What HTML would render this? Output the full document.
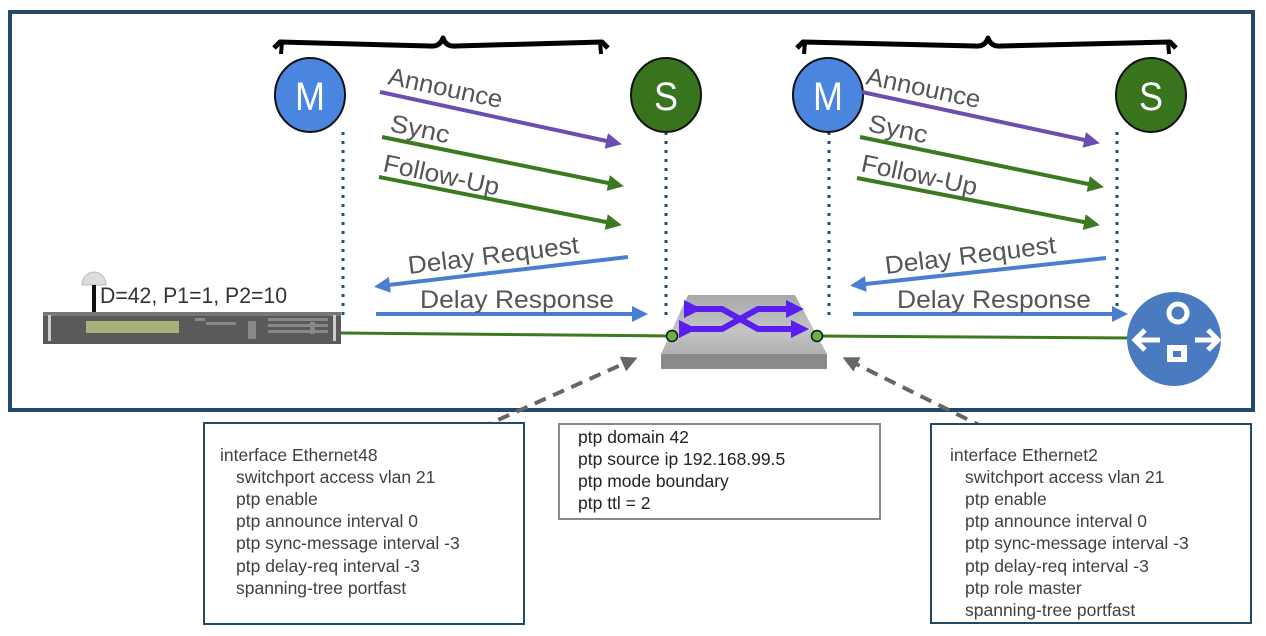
<!DOCTYPE html>
<html><head><meta charset="utf-8"><style>
html,body{margin:0;padding:0;background:#fff;}
svg{display:block;}
text{font-family:"Liberation Sans",sans-serif;}
</style></head><body>
<svg width="1266" height="636" viewBox="0 0 1266 636" xmlns="http://www.w3.org/2000/svg">
<defs>
<marker id="ap" markerWidth="4" markerHeight="4" refX="2.5" refY="2" orient="auto" markerUnits="strokeWidth"><path d="M0,0 L4,2 L0,4 z" fill="#6a4fb0"/></marker>
<marker id="ag" markerWidth="4" markerHeight="4" refX="2.5" refY="2" orient="auto" markerUnits="strokeWidth"><path d="M0,0 L4,2 L0,4 z" fill="#3b7a20"/></marker>
<marker id="ab" markerWidth="4" markerHeight="4" refX="2.5" refY="2" orient="auto" markerUnits="strokeWidth"><path d="M0,0 L4,2 L0,4 z" fill="#4a7fd0"/></marker>
<marker id="ad" markerWidth="4" markerHeight="4" refX="2.5" refY="2" orient="auto" markerUnits="strokeWidth"><path d="M0,0 L4,2 L0,4 z" fill="#666"/></marker>
<marker id="av" markerWidth="3" markerHeight="3" refX="1.5" refY="1.5" orient="auto" markerUnits="strokeWidth"><path d="M0,0 L3,1.5 L0,3 z" fill="#5a1ef0"/></marker>
<linearGradient id="sw" x1="0" y1="0" x2="0" y2="1"><stop offset="0" stop-color="#a8a8a8"/><stop offset="0.6" stop-color="#c4c4c4"/><stop offset="1" stop-color="#b0b0b0"/></linearGradient>
</defs>

<rect x="10" y="12" width="1243" height="398" fill="#fff" stroke="#22496a" stroke-width="4"/>

<path d="M274,48 L280,42 L430,46 Q440,47 443,38 Q446,47 456,46 L602,42 L608,48" fill="none" stroke="#000" stroke-width="5" stroke-linejoin="round"/>
<path d="M282,42 L281,54 M600,42 L601,54" stroke="#000" stroke-width="4"/>
<path d="M797,48 L803,42 L975,46 Q985,47 988,38 Q991,47 1001,46 L1170,42 L1176,48" fill="none" stroke="#000" stroke-width="5" stroke-linejoin="round"/>
<path d="M805,42 L804,54 M1168,42 L1169,54" stroke="#000" stroke-width="4"/>

<g stroke="#1f4e79" stroke-width="3" stroke-dasharray="3,6">
<line x1="343" y1="132" x2="343" y2="315"/>
<line x1="666" y1="132" x2="666" y2="318"/>
<line x1="829" y1="132" x2="829" y2="318"/>
<line x1="1117" y1="132" x2="1117" y2="318"/>
</g>

<ellipse cx="310" cy="95" rx="35" ry="37" fill="#4a86e0" stroke="#111" stroke-width="2"/>
<text x="310" y="110" font-size="40" fill="#fff" text-anchor="middle" textLength="30" lengthAdjust="spacingAndGlyphs">M</text>
<ellipse cx="666" cy="95" rx="35" ry="37" fill="#38731e" stroke="#111" stroke-width="2"/>
<text x="666" y="110" font-size="40" fill="#fff" text-anchor="middle" textLength="24" lengthAdjust="spacingAndGlyphs">S</text>
<ellipse cx="828" cy="95" rx="35" ry="37" fill="#4a86e0" stroke="#111" stroke-width="2"/>
<text x="828" y="110" font-size="40" fill="#fff" text-anchor="middle" textLength="30" lengthAdjust="spacingAndGlyphs">M</text>
<ellipse cx="1151" cy="95" rx="35" ry="37" fill="#38731e" stroke="#111" stroke-width="2"/>
<text x="1151" y="110" font-size="40" fill="#fff" text-anchor="middle" textLength="24" lengthAdjust="spacingAndGlyphs">S</text>

<g stroke-width="4" fill="none">
<line x1="380" y1="92" x2="616" y2="143" stroke="#6a4fb0" marker-end="url(#ap)"/>
<line x1="382" y1="137" x2="618" y2="185" stroke="#3b7a20" marker-end="url(#ag)"/>
<line x1="379" y1="177" x2="616" y2="224" stroke="#3b7a20" marker-end="url(#ag)"/>
<line x1="628" y1="257" x2="380" y2="286" stroke="#4a7fd0" marker-end="url(#ab)"/>
<line x1="376" y1="314" x2="642" y2="314" stroke="#4a7fd0" marker-end="url(#ab)"/>
<line x1="862" y1="92" x2="1094" y2="142" stroke="#6a4fb0" marker-end="url(#ap)"/>
<line x1="860" y1="137" x2="1098" y2="186" stroke="#3b7a20" marker-end="url(#ag)"/>
<line x1="857" y1="178" x2="1094" y2="224" stroke="#3b7a20" marker-end="url(#ag)"/>
<line x1="1106" y1="258" x2="856" y2="285" stroke="#4a7fd0" marker-end="url(#ab)"/>
<line x1="853" y1="314" x2="1122" y2="314" stroke="#4a7fd0" marker-end="url(#ab)"/>
</g>

<g font-size="25" fill="#555">
<text transform="translate(387,84) rotate(12)" textLength="116" lengthAdjust="spacingAndGlyphs">Announce</text>
<text transform="translate(389,131) rotate(12)" textLength="60" lengthAdjust="spacingAndGlyphs">Sync</text>
<text transform="translate(382,171) rotate(12)" textLength="118" lengthAdjust="spacingAndGlyphs">Follow-Up</text>
<text transform="translate(409,274) rotate(-7)" textLength="172" lengthAdjust="spacingAndGlyphs">Delay Request</text>
<text x="420" y="308" textLength="194" lengthAdjust="spacingAndGlyphs">Delay Response</text>
<text transform="translate(865,84) rotate(12)" textLength="116" lengthAdjust="spacingAndGlyphs">Announce</text>
<text transform="translate(867,131) rotate(12)" textLength="60" lengthAdjust="spacingAndGlyphs">Sync</text>
<text transform="translate(860,171) rotate(12)" textLength="118" lengthAdjust="spacingAndGlyphs">Follow-Up</text>
<text transform="translate(886,274) rotate(-7)" textLength="172" lengthAdjust="spacingAndGlyphs">Delay Request</text>
<text x="897" y="308" textLength="194" lengthAdjust="spacingAndGlyphs">Delay Response</text>
</g>

<line x1="340" y1="333" x2="672" y2="336" stroke="#3b7a20" stroke-width="3"/>
<line x1="818" y1="336" x2="1132" y2="338" stroke="#3b7a20" stroke-width="3"/>

<path d="M82,285 a12,13 0 0 1 24,0 z" fill="#ddd" stroke="#bbb"/>
<line x1="94" y1="285" x2="94" y2="313" stroke="#111" stroke-width="4"/>
<text x="100" y="303" font-size="22" fill="#333" textLength="187" lengthAdjust="spacingAndGlyphs">D=42, P1=1, P2=10</text>
<rect x="43" y="312" width="298" height="32" fill="#5a5a5a"/>
<rect x="43" y="312" width="298" height="4" fill="#777"/>
<rect x="86" y="321" width="93" height="12" fill="#a9b07a"/>
<g fill="#888"><rect x="195" y="318" width="10" height="3"/><rect x="206" y="322" width="30" height="3"/><rect x="248" y="321" width="8" height="18"/><rect x="268" y="318" width="60" height="3"/><rect x="268" y="324" width="60" height="3"/><rect x="268" y="330" width="60" height="3"/><rect x="310" y="322" width="5" height="12"/></g>
<rect x="48" y="315" width="3" height="26" fill="#ccc"/><rect x="333" y="315" width="3" height="26" fill="#ccc"/>

<path d="M688,295 L795,295 L827,354 L661,354 Z" fill="url(#sw)"/>
<rect x="661" y="354" width="166" height="15" fill="#8a8a8a"/>
<g stroke="#5a1ef0" stroke-width="6" fill="none" stroke-linejoin="round">
<path d="M693,309 L722,309 L758,329 L800,329" marker-start="url(#av)" marker-end="url(#av)"/>
<path d="M688,329 L722,329 L758,309 L795,309" marker-start="url(#av)" marker-end="url(#av)"/>
</g>
<circle cx="672" cy="336" r="5.5" fill="#6ab04c" stroke="#111" stroke-width="1.5"/>
<circle cx="817" cy="336" r="5.5" fill="#6ab04c" stroke="#111" stroke-width="1.5"/>

<circle cx="1174" cy="339" r="47" fill="#4a7bc0"/>
<circle cx="1178" cy="313" r="9" fill="none" stroke="#fff" stroke-width="5"/>
<path d="M1134,340 L1160,340 M1145,330 L1135,340 L1145,350 M1195,340 L1218,340 M1208,330 L1218,340 L1208,350" stroke="#fff" stroke-width="5" fill="none"/>
<rect x="1167" y="345" width="20" height="17" fill="#fff"/><rect x="1173" y="351" width="8" height="6" fill="#4a7bc0"/>

<line x1="480" y1="428" x2="632" y2="360" stroke="#666" stroke-width="4" stroke-dasharray="12,8" marker-end="url(#ad)"/>
<line x1="985" y1="428" x2="848" y2="360" stroke="#666" stroke-width="4" stroke-dasharray="12,8" marker-end="url(#ad)"/>

<rect x="204" y="423" width="320" height="201" fill="#fff" stroke="#22496a" stroke-width="2"/>
<rect x="559" y="424" width="321" height="95" fill="#fff" stroke="#888" stroke-width="2"/>
<rect x="931" y="424" width="320" height="199" fill="#fff" stroke="#22496a" stroke-width="2"/>

<g font-size="17.5" fill="#404040">
<text x="220" y="461">interface Ethernet48</text>
<text x="236" y="483">switchport access vlan 21</text>
<text x="236" y="505">ptp enable</text>
<text x="236" y="527">ptp announce interval 0</text>
<text x="236" y="549">ptp sync-message interval -3</text>
<text x="236" y="572">ptp delay-req interval -3</text>
<text x="236" y="594">spanning-tree portfast</text>

<text x="578" y="443" fill="#222">ptp domain 42</text>
<text x="578" y="465" fill="#222">ptp source ip 192.168.99.5</text>
<text x="578" y="487" fill="#222">ptp mode boundary</text>
<text x="578" y="509" fill="#222">ptp ttl = 2</text>

<text x="950" y="461">interface Ethernet2</text>
<text x="965" y="483">switchport access vlan 21</text>
<text x="965" y="505">ptp enable</text>
<text x="965" y="527">ptp announce interval 0</text>
<text x="965" y="549">ptp sync-message interval -3</text>
<text x="965" y="572">ptp delay-req interval -3</text>
<text x="965" y="594">ptp role master</text>
<text x="965" y="616">spanning-tree portfast</text>
</g>
</svg>
</body></html>
